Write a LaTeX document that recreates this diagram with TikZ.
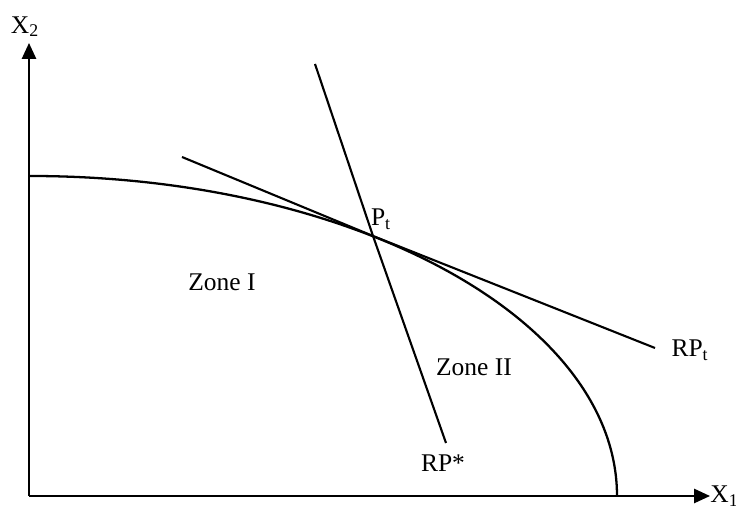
\documentclass[tikz,border=0pt]{standalone}
\usepackage{fontspec}
\setmainfont{Liberation Serif}
\usetikzlibrary{arrows.meta}
\begin{document}
\begin{tikzpicture}[
    x=0.02cm, y=0.02cm,
    font=\fontsize{14.5}{17}\selectfont,
    eje/.style={line width=1.2pt, -{Triangle[length=9pt, width=8pt]}},
    curva/.style={line width=1.3pt},
    recta/.style={line width=1.2pt},
    rotulo/.style={inner sep=1pt}
  ]
  \useasboundingbox (0,0) rectangle (736,509);

  % --- ejes ---
  \coordinate (O)   at (29,13);
  \coordinate (fx1) at (710,13);
  \coordinate (fx2) at (29,466);
  \draw[eje] (O) -- (fx1);
  \draw[eje] (O) -- (fx2);
  \node[inner sep=0pt, anchor=west] (X1) at (fx1) {X\textsubscript{1}};
  \node[rotulo, anchor=south] (X2) at (25,470) {X\textsubscript{2}};

  % --- frontera: cuarto de elipse, centro (30,13), semiejes 587 y 320 ---
  \coordinate (inicio) at (30,333);
  \draw[curva] (inicio) arc[start angle=90, end angle=0, x radius=587, y radius=320];

  % --- rectas por P_t ---
  \coordinate (Pt)  at (373,273);
  \coordinate (ta)  at (182,352);
  \coordinate (tb)  at (655,161);
  \coordinate (ea)  at (315,445);
  \coordinate (eb)  at (446,66);
  \draw[recta] (ta) -- (Pt) -- (tb);
  \draw[recta] (ea) -- (Pt) -- (eb);

  % --- rótulos ---
  \node[rotulo] (lPt)  at (381,290) {P\textsubscript{t}};
  \node[rotulo] (lRPt) at (690,159) {RP\textsubscript{t}};
  \node[rotulo] (lRPe) at (443,46)  {RP*};
  \node[rotulo] (zI)   at (222,227) {Zone I};
  \node[rotulo] (zII)  at (474,142) {Zone II};
\end{tikzpicture}
\end{document}
